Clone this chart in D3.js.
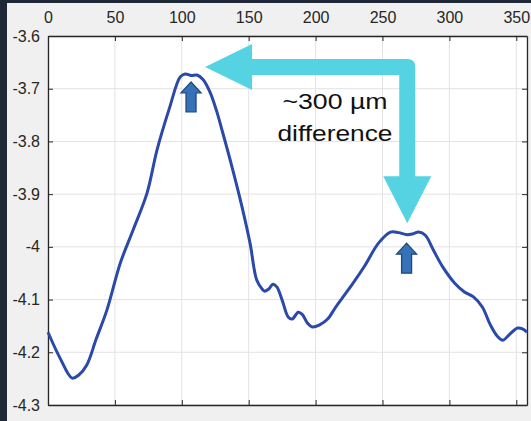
<!DOCTYPE html>
<html>
<head>
<meta charset="utf-8">
<script src="https://cdn.jsdelivr.net/npm/d3@7"></script>
<style>
  body { margin: 0; background: #1e2836; }
  svg { display: block; }
</style>
</head>
<body>
<svg width="531" height="421"></svg>
<script>
// profile data
const xs = [0, 9, 18, 23, 29, 36, 44, 54, 63.6, 74, 81.5, 91, 98.7, 102.5, 107, 111.4, 116, 121, 126, 130, 137.6, 145, 151, 156, 160, 162, 165, 168, 171, 175, 179.5, 182.5, 187, 190, 194, 197.5, 203, 209, 214.6, 220, 228, 237, 247, 256, 262, 268.5, 273, 277, 282, 288, 295, 304, 311, 318, 324.6, 330.6, 336, 340, 345, 351, 355, 358];
const ys = [-4.162, -4.211, -4.249, -4.243, -4.224, -4.175, -4.120, -4.031, -3.968, -3.898, -3.816, -3.735, -3.678, -3.672, -3.675, -3.674, -3.683, -3.706, -3.742, -3.778, -3.849, -3.924, -3.993, -4.063, -4.080, -4.084, -4.080, -4.071, -4.076, -4.101, -4.133, -4.137, -4.124, -4.128, -4.145, -4.152, -4.148, -4.137, -4.116, -4.097, -4.069, -4.035, -3.993, -3.972, -3.973, -3.977, -3.975, -3.972, -3.978, -4.006, -4.038, -4.069, -4.085, -4.095, -4.114, -4.148, -4.170, -4.177, -4.166, -4.154, -4.156, -4.162];

const xTicks = [0, 50, 100, 150, 200, 250, 300, 350];
const yTicks = [-3.6, -3.7, -3.8, -3.9, -4, -4.1, -4.2, -4.3];

// annotations
const bigArrow = {x1: 117.4, x2: 268.5, y1: -3.659, y2: -3.955};
const peakArrows = [{x: 106.9, y: -3.687}, {x: 268, y: -3.993}];
const noteX = 214.5;
const noteLines = [{text: "~300 µm", y: -3.739, len: 105}, {text: "difference", y: -3.8, len: 115}];

const svg = d3.select("svg");
const width = +svg.attr("width");
const height = +svg.attr("height");
const margin = {top: 36, right: 4, bottom: 16, left: 48};

svg.append("rect").attr("x", 0).attr("y", 0).attr("width", width).attr("height", height).attr("fill", "#1e2836");
svg.append("rect").attr("x", 7).attr("y", 3).attr("width", width - 7).attr("height", height - 3).attr("fill", "#f0f0f0");

const x = d3.scaleLinear().domain([0, 358]).range([margin.left, width - margin.right]);
const y = d3.scaleLinear().domain([-3.6, -4.3]).range([margin.top, height - margin.bottom]);

svg.append("rect")
  .attr("x", x(0)).attr("y", y(-3.6))
  .attr("width", x(358) - x(0)).attr("height", y(-4.3) - y(-3.6))
  .attr("fill", "#ffffff");

// grid
svg.append("g").selectAll("line").data(xTicks).enter().append("line")
  .attr("x1", d => x(d)).attr("x2", d => x(d))
  .attr("y1", y(-3.6)).attr("y2", y(-4.3))
  .attr("stroke", "#e3e3e3").attr("stroke-width", 1);
svg.append("g").selectAll("line").data(yTicks).enter().append("line")
  .attr("x1", x(0)).attr("x2", x(358))
  .attr("y1", d => y(d)).attr("y2", d => y(d))
  .attr("stroke", "#e3e3e3").attr("stroke-width", 1);

// axes (ticks inward, mirrored)
const fmt = d => d3.format("")(d).replace("−", "-");
const axTop = svg.append("g").attr("transform", `translate(0,${y(-3.6)})`)
  .call(d3.axisTop(x).tickValues(xTicks).tickSizeInner(-5).tickSizeOuter(0).tickPadding(13).tickFormat(fmt));
const axBottom = svg.append("g").attr("transform", `translate(0,${y(-4.3)})`)
  .call(d3.axisBottom(x).tickValues(xTicks).tickSizeInner(-5).tickSizeOuter(0).tickFormat(""));
const axLeft = svg.append("g").attr("transform", `translate(${x(0)},0)`)
  .call(d3.axisLeft(y).tickValues(yTicks).tickSizeInner(-5).tickSizeOuter(0).tickPadding(13).tickFormat(fmt));
const axRight = svg.append("g").attr("transform", `translate(${x(358)},0)`)
  .call(d3.axisRight(y).tickValues(yTicks).tickSizeInner(-5).tickSizeOuter(0).tickFormat(""));

[axTop, axBottom, axLeft, axRight].forEach(g => {
  g.selectAll("path").attr("stroke", "#262626").attr("stroke-width", 1.3);
  g.selectAll("line").attr("stroke", "#262626");
  g.selectAll("text").attr("fill", "#262626").style("font-family", "Liberation Sans, Arial, sans-serif").style("font-size", "16px");
});
axLeft.selectAll("text").attr("x", -8);

// profile line
const pts = xs.map((d, i) => [d, ys[i]]);
svg.append("path")
  .datum(pts)
  .attr("fill", "none")
  .attr("stroke", "#2a49a8")
  .attr("stroke-width", 3)
  .attr("stroke-linejoin", "round")
  .attr("d", d3.line().x(d => x(d[0])).y(d => y(d[1])).curve(d3.curveCatmullRom.alpha(0.5)));

// cyan bent arrow
const tx = x(bigArrow.x1), cx = x(bigArrow.x2), cy = y(bigArrow.y1), ty = y(bigArrow.y2);
const hw = 8, hl = 47, hh = 23, r = 8;
const ap = d3.path();
ap.moveTo(tx, cy);
ap.lineTo(tx + hl, cy - hh);
ap.lineTo(tx + hl, cy - hw);
ap.lineTo(cx + hw - r, cy - hw);
ap.quadraticCurveTo(cx + hw, cy - hw, cx + hw, cy - hw + r);
ap.lineTo(cx + hw, ty - hl);
ap.lineTo(cx + hh + 1, ty - hl);
ap.lineTo(cx, ty);
ap.lineTo(cx - hh - 1, ty - hl);
ap.lineTo(cx - hw, ty - hl);
ap.lineTo(cx - hw, cy + hw);
ap.lineTo(tx + hl, cy + hw);
ap.lineTo(tx + hl, cy + hh);
ap.closePath();
svg.append("path").attr("d", ap.toString()).attr("fill", "#55d3e3");

// small up arrows at the peaks
svg.append("g").selectAll("path").data(peakArrows).enter().append("path")
  .attr("d", d => {
    const px = x(d.x), py = y(d.y);
    const p = d3.path();
    p.moveTo(px, py);
    p.lineTo(px + 10, py + 11);
    p.lineTo(px + 5, py + 11);
    p.lineTo(px + 5, py + 30);
    p.lineTo(px - 5, py + 30);
    p.lineTo(px - 5, py + 11);
    p.lineTo(px - 10, py + 11);
    p.closePath();
    return p.toString();
  })
  .attr("fill", "#3572b8")
  .attr("stroke", "#1f4a7a")
  .attr("stroke-width", 1.3);

// note text
svg.append("g").selectAll("text").data(noteLines).enter().append("text")
  .attr("x", x(noteX)).attr("y", d => y(d.y))
  .attr("text-anchor", "middle")
  .attr("textLength", d => d.len)
  .attr("lengthAdjust", "spacingAndGlyphs")
  .style("font-family", "Liberation Sans, Arial, sans-serif")
  .style("font-size", "22px")
  .attr("fill", "#111")
  .text(d => d.text);
</script>
</body>
</html>
